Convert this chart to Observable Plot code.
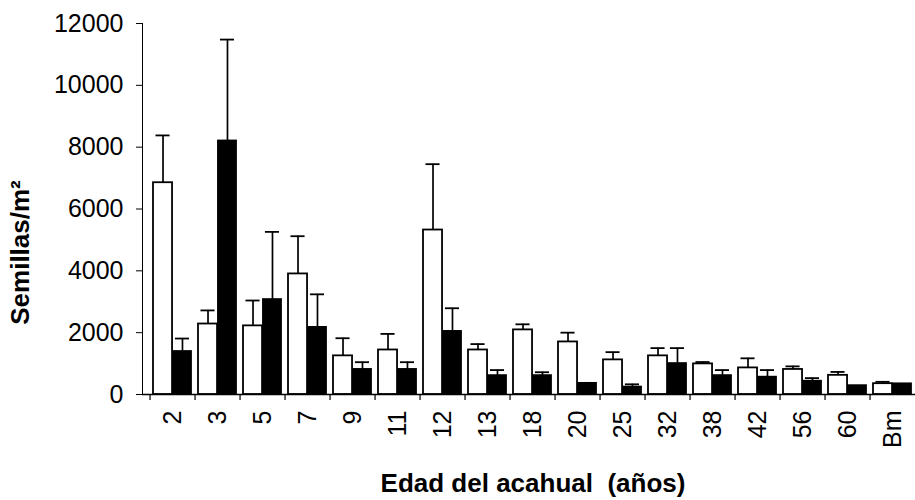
<!DOCTYPE html>
<html><head><meta charset="utf-8">
<script src="https://cdn.jsdelivr.net/npm/d3@7"></script>
<script src="https://cdn.jsdelivr.net/npm/@observablehq/plot@0.6"></script>
<style>html,body{margin:0;padding:0;background:#fff;overflow:hidden}</style>
</head><body><div id="chart"></div>
<script>
const categories = ["2","3","5","7","9","11","12","13","18","20","25","32","38","42","56","60","Bm"];
const openMeans   = [6850, 2280, 2220, 3900, 1250, 1440, 5320, 1440, 2090, 1700, 1120, 1250, 990, 860, 810, 620, 350];
const openErrors  = [1530, 440, 820, 1220, 570, 520, 2130, 190, 180, 300, 250, 250, 60, 310, 100, 110, 60];
const solidMeans  = [1390, 8200, 3070, 2170, 810, 810, 2040, 610, 610, 360, 240, 1000, 610, 560, 430, 285, 345];
const solidErrors = [420, 3280, 2190, 1070, 235, 235, 750, 180, 110, 0, 90, 500, 180, 230, 100, 0, 0];
const yTicks = [0, 2000, 4000, 6000, 8000, 10000, 12000];
const yLabel = "Semillas/m²";
const xLabel = "Edad del acahual\u00a0 (años)";

const rows = categories.map((c, i) => ({
  cat: c,
  open: openMeans[i], openTop: openMeans[i] + openErrors[i], openErr: openErrors[i],
  solid: solidMeans[i], solidTop: solidMeans[i] + solidErrors[i], solidErr: solidErrors[i]
}));

const W = 915, H = 500, ML = 142, MT = 23, MB = 106;
const xEnd = 922.6;
const step = (xEnd - ML) / categories.length;
const padL = 3, padR = 4, capHalf = 7.5;
const openCenter = (padL + step / 2) / 2;
const solidCenter = (step / 2 + step - padR) / 2;
const font = "'Liberation Sans', Arial, sans-serif";

const chart = Plot.plot({
  width: W, height: H,
  marginLeft: ML, marginTop: MT, marginBottom: MB, marginRight: 0,
  style: {fontFamily: font, fontSize: "25px", color: "black", background: "white", overflow: "hidden"},
  x: {domain: categories, range: [ML, xEnd], padding: 0, tickSize: 0, tickPadding: 16, tickRotate: -90, label: null},
  y: {domain: [0, 12000], ticks: yTicks, tickSize: 6, tickPadding: 13, tickFormat: d3.format("d"), label: null, line: true},
  marks: [
    Plot.barY(rows, {x: "cat", y: "open", fill: "white", stroke: "black", strokeWidth: 1.8, insetLeft: padL, insetRight: step / 2}),
    Plot.barY(rows, {x: "cat", y: "solid", fill: "black", stroke: "black", strokeWidth: 1.8, insetLeft: step / 2, insetRight: padR}),
    Plot.ruleX(rows.filter(d => d.openErr > 0), {x: "cat", y1: "open", y2: "openTop", dx: openCenter - step / 2, stroke: "black", strokeWidth: 1.7}),
    Plot.tickY(rows.filter(d => d.openErr > 0), {x: "cat", y: "openTop", insetLeft: openCenter - capHalf, insetRight: step - openCenter - capHalf, stroke: "black", strokeWidth: 1.8}),
    Plot.ruleX(rows.filter(d => d.solidErr > 0), {x: "cat", y1: "solid", y2: "solidTop", dx: solidCenter - step / 2, stroke: "black", strokeWidth: 1.7}),
    Plot.tickY(rows.filter(d => d.solidErr > 0), {x: "cat", y: "solidTop", insetLeft: solidCenter - capHalf, insetRight: step - solidCenter - capHalf, stroke: "black", strokeWidth: 1.8}),
    Plot.ruleY([0], {stroke: "black", strokeWidth: 1.3}),
    Plot.ruleX(categories, {x: d => d, dx: -step / 2, y1: 0, y2: 0, insetBottom: -6, stroke: "black", strokeWidth: 1.2}),
    Plot.text([yLabel], {frameAnchor: "left", textAnchor: "middle", lineAnchor: "middle", rotate: -90, dx: -122, dy: 43.5, fontWeight: "bold", fontSize: 26, fill: "black"}),
    Plot.text([xLabel], {frameAnchor: "bottom", textAnchor: "middle", lineAnchor: "middle", dx: 4, dy: 89, fontWeight: "bold", fontSize: 26, fill: "black"})
  ]
});
document.getElementById("chart").appendChild(chart);
</script>
</body></html>
